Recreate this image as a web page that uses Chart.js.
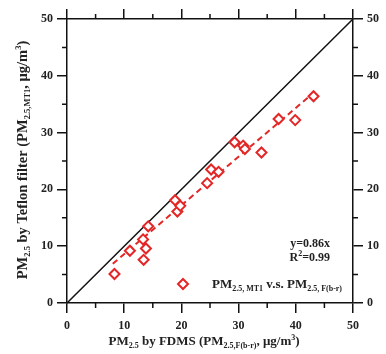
<!DOCTYPE html>
<html>
<head>
<meta charset="utf-8">
<script src="https://cdn.jsdelivr.net/npm/chart.js@4.4.1/dist/chart.umd.min.js"></script>
<style>
html,body{margin:0;padding:0;background:#fff;}
#wrap{width:386px;height:354px;}
</style>
</head>
<body>
<div id="wrap"><canvas id="c" width="386" height="354"></canvas></div>
<script>
// ---- data ----
const fdms   = [8.3, 11.0, 13.3, 13.4, 13.8, 14.2, 18.9, 19.3, 19.8, 24.5, 25.2, 26.5, 29.3, 30.8, 31.1, 34.0, 37.0, 39.9, 43.1];
const teflon = [5.1, 9.2, 11.2, 7.6, 9.6, 13.5, 18.1, 16.1, 17.1, 21.1, 23.5, 23.1, 28.3, 27.7, 27.1, 26.5, 32.4, 32.2, 36.4];
const oneToOneX = [0, 50];
const oneToOneY = [0, 50];
const fitX = [8.0, 43.1];
const fitY = [6.9, 37.0];
const axisTicks = [0, 10, 20, 30, 40, 50];
const minorTicks = [5, 15, 25, 35, 45];
const fitText = ['y=0.86x', 'R', '2', '=0.99'];

const RED = '#e32626';
const FONT = '"Liberation Serif", "DejaVu Serif", serif';

function pts(xs, ys){ return xs.map((x,i)=>({x:x, y:ys[i]})); }

function drawRich(ctx, segs, x, y, align, bigSize, smallSize){
  const big = 'bold ' + bigSize + 'px ' + FONT, small = 'bold ' + smallSize + 'px ' + FONT;
  let w = 0;
  segs.forEach(s => { ctx.font = s[1]==='n' ? big : small; w += ctx.measureText(s[0]).width; });
  let cx = align==='center' ? x - w/2 : (align==='right' ? x - w : x);
  ctx.textAlign = 'left';
  ctx.textBaseline = 'alphabetic';
  segs.forEach(s => {
    ctx.font = s[1]==='n' ? big : small;
    const dy = s[1]==='b' ? bigSize*0.22 : (s[1]==='p' ? -bigSize*0.4 : 0);
    ctx.fillText(s[0], cx, y + dy);
    cx += ctx.measureText(s[0]).width;
  });
}

const decor = {
  id: 'decor',
  afterDraw(chart){
    const ctx = chart.ctx, a = chart.chartArea;
    const xs = chart.scales.x, ys = chart.scales.y;
    ctx.save();
    // minor ticks
    ctx.strokeStyle = '#111'; ctx.lineWidth = 1.5;
    ctx.beginPath();
    minorTicks.forEach(v => {
      const px = xs.getPixelForValue(v), py = ys.getPixelForValue(v);
      ctx.moveTo(px, a.bottom); ctx.lineTo(px, a.bottom + 5);
      ctx.moveTo(px, a.top); ctx.lineTo(px, a.top - 5);
      ctx.moveTo(a.left, py); ctx.lineTo(a.left - 5, py);
      ctx.moveTo(a.right, py); ctx.lineTo(a.right + 5, py);
    });
    ctx.stroke();

    ctx.fillStyle = '#222';
    // x title
    drawRich(ctx, [['PM','n'],['2.5','b'],[' by FDMS (PM','n'],['2.5,F(b-r)','b'],[', \u03bcg/m','n'],['3','p'],[')','n']],
      (a.left + a.right)/2 - 6, 345, 'center', 13, 8);
    // y title
    ctx.save();
    ctx.translate(27, (a.top + a.bottom)/2 - 1);
    ctx.rotate(-Math.PI/2);
    drawRich(ctx, [['PM','n'],['2.5','b'],[' by Teflon filter (PM','n'],['2.5,MT1','b'],[', \u03bcg/m','n'],['3','p'],[')','n']],
      0, 0, 'center', 14.5, 8.5);
    ctx.restore();

    // fit annotation
    drawRich(ctx, [[fitText[0],'n']], a.right - 23, 247, 'right', 12, 8);
    drawRich(ctx, [[fitText[1],'n'],[fitText[2],'p'],[fitText[3],'n']], a.right - 23, 261, 'right', 12, 8);

    // legend
    const lx = a.left + 116, ly = a.bottom - 19;
    ctx.strokeStyle = RED; ctx.lineWidth = 2;
    ctx.beginPath();
    ctx.moveTo(lx, ly - 5); ctx.lineTo(lx + 5, ly); ctx.lineTo(lx, ly + 5); ctx.lineTo(lx - 5, ly); ctx.closePath();
    ctx.stroke();
    ctx.fillStyle = '#222';
    drawRich(ctx, [['PM','n'],['2.5, MT1','b'],[' v.s. PM','n'],['2.5, F(b-r)','b']], lx + 29, ly + 4, 'left', 13, 8);
    ctx.restore();
  }
};

const tickFont = {family: FONT, size: 12, weight: 'bold'};
function axis(pos, showLabels, size){
  return {
    type: 'linear', position: pos, min: 0, max: 50,
    afterFit: s => { if (pos==='left'||pos==='right') s.width = size; else s.height = size; },
    afterBuildTicks: s => { s.ticks = axisTicks.map(v => ({value: v})); },
    ticks: {
      stepSize: 10, color: '#222', font: tickFont, padding: pos==='bottom' ? 6 : 4,
      display: true,
      callback: v => showLabels ? String(v) : ''
    },
    grid: {display: true, drawOnChartArea: false, drawTicks: true, tickLength: 10, color: '#111', lineWidth: 1.5},
    border: {display: true, color: '#111', width: 1.5}
  };
}

new Chart(document.getElementById('c'), {
  type: 'scatter',
  data: {
    datasets: [
      {label: '1:1', data: pts(oneToOneX, oneToOneY), showLine: true, borderColor: '#111', borderWidth: 1.5,
       pointRadius: 0, xAxisID: 'x', yAxisID: 'y', order: 3},
      {label: 'fit', data: pts(fitX, fitY), showLine: true, borderColor: RED, borderWidth: 2, borderDash: [6, 4],
       pointRadius: 0, xAxisID: 'x', yAxisID: 'y', order: 2},
      {label: 'PM2.5,MT1 v.s. PM2.5,F(b-r)', data: pts(fdms, teflon), pointStyle: 'rectRot', pointRadius: 5,
       borderColor: RED, backgroundColor: 'rgba(255,255,255,1)', borderWidth: 2, xAxisID: 'x', yAxisID: 'y', order: 1}
    ]
  },
  options: {
    responsive: false, animation: false, devicePixelRatio: 1,
    layout: {padding: 0},
    clip: false,
    plugins: {legend: {display: false}, tooltip: {enabled: false}},
    scales: {
      x: axis('bottom', true, 51),
      x2: axis('top', false, 19),
      y: axis('left', true, 67),
      y2: axis('right', true, 33)
    }
  },
  plugins: [decor]
});
</script>
</body>
</html>
